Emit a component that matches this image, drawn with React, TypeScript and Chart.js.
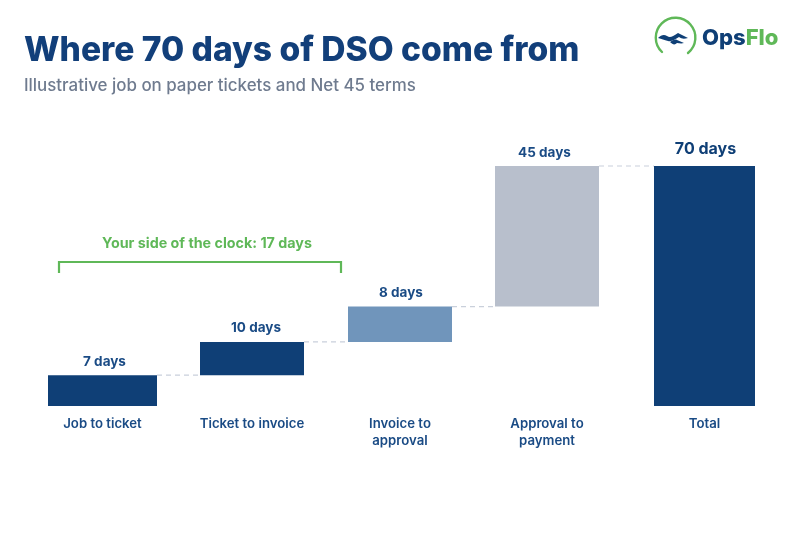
import { useEffect, useRef } from "react";
import Chart from "chart.js/auto";

const FONT = "Inter, 'Open Sans', sans-serif";
const NAVY = "#0f3f76";
const LABEL_BLUE = "#1a4b85";
const GREEN = "#5fb858";

const categories = [
	"Job to ticket",
	"Ticket to invoice",
	["Invoice to", "approval"],
	["Approval to", "payment"],
	"Total",
];
const dayCounts = [7, 10, 8, 45, 70];
// bar extents as drawn in the picture, the steps are not quite to scale
const barStarts = [0, 9, 18.7, 29, 0];
const barEnds = [9, 18.7, 29, 70, 70];
const barColors = [NAVY, NAVY, "#7095bb", "#b8bfcc", NAVY];
const bracketLabel = "Your side of the clock: 17 days";

// the picture's columns are hand placed, so nudge them off the even grid (px)
const columnNudge = [1.5, 1, -1, -4, 3.5];
const widthNudge = [4, -1, -1, -1, -4];
const labelNudge = [2, 4, 1, -2.5, 1];

const annotations = {
	id: "annotations",
	afterDatasetsUpdate(chart: any) {
		chart.getDatasetMeta(0).data.forEach((bar: any, i: number) => {
			bar.width = 105 + widthNudge[i];
		});
	},
	afterDatasetsDraw(chart: any) {
		const { ctx, scales } = chart;
		const bars = chart.getDatasetMeta(0).data;
		ctx.save();

		// dashed connectors between the steps
		ctx.strokeStyle = "#c9d0db";
		ctx.lineWidth = 1.2;
		ctx.setLineDash([5, 4]);
		for (let i = 0; i < bars.length - 1; i++) {
			const y = scales.y.getPixelForValue(barEnds[i]);
			ctx.beginPath();
			ctx.moveTo(bars[i].x + bars[i].width / 2, y);
			ctx.lineTo(bars[i + 1].x - bars[i + 1].width / 2, y);
			ctx.stroke();
		}
		ctx.setLineDash([]);

		// value labels
		ctx.textAlign = "center";
		ctx.textBaseline = "middle";
		dayCounts.forEach((days, i) => {
			const last = i === dayCounts.length - 1;
			ctx.font = `700 ${last ? 16 : 13.5}px ${FONT}`;
			ctx.fillStyle = last ? NAVY : LABEL_BLUE;
			ctx.fillText(`${days} days`, bars[i].x + labelNudge[i], bars[i].y - (last ? 16.5 : 13.5));
		});

		// bracket over the first two steps
		const left = bars[0].x - 43.5;
		const right = bars[1].x + 89;
		const top = scales.y.getPixelForValue(42);
		ctx.strokeStyle = GREEN;
		ctx.lineWidth = 2.2;
		ctx.beginPath();
		ctx.moveTo(left, top + 11);
		ctx.lineTo(left, top);
		ctx.lineTo(right, top);
		ctx.lineTo(right, top + 11);
		ctx.stroke();
		ctx.font = `700 14.3px ${FONT}`;
		ctx.fillStyle = GREEN;
		ctx.fillText(bracketLabel, 207, top - 18);

		ctx.restore();
	},
};

export default function App() {
	const chartRef = useRef<HTMLCanvasElement>(null);

	useEffect(() => {
		if (!chartRef.current) return;
		const chart = new Chart(chartRef.current, {
			type: "bar",
			data: {
				labels: categories,
				datasets: [
					{
						data: barStarts.map((start, i) => [start, barEnds[i]]),
						backgroundColor: barColors,
						barPercentage: 0.7,
						categoryPercentage: 1,
					},
				],
			},
			options: {
				animation: false,
				responsive: false,
				layout: { padding: { left: 26, right: 24, top: 166, bottom: 0 } },
				plugins: {
					legend: { display: false },
					tooltip: { enabled: false },
				},
				scales: {
					x: {
						grid: { display: false },
						border: { display: false },
						afterFit: (axis: any) => {
							axis.height = 127;
						},
						afterBuildTicks: (axis: any) => {
							if (axis.$nudged) return;
							axis.$nudged = true;
							const base = axis.getPixelForValue;
							axis.getPixelForValue = function (value: number, index?: number) {
								return base.call(axis, value, index) + columnNudge[value];
							};
						},
						ticks: {
							color: LABEL_BLUE,
							padding: 2,
							maxRotation: 0,
							autoSkip: false,
							font: { family: FONT, size: 13.2, weight: 600, lineHeight: 1.25 },
						},
					},
					y: { display: false, min: 0, max: 70 },
				},
			},
			plugins: [annotations],
		});

		return () => chart.destroy();
	}, []);

	return (
		<div style={{ position: "fixed", left: 0, top: 0, width: 800, height: 533, background: "#fff", fontFamily: FONT, overflow: "hidden" }}>
			<canvas ref={chartRef} width={800} height={533} style={{ position: "absolute", left: 0, top: 0 }} />
			<div style={{ position: "absolute", left: 24, top: 27, fontSize: 33.6, lineHeight: "44px", fontWeight: 800, color: "#123f7a", whiteSpace: "nowrap" }}>
				Where 70 days of DSO come from
			</div>
			<div style={{ position: "absolute", left: 24, top: 74, fontSize: 16.9, lineHeight: "22px", fontWeight: 500, color: "#6f7b8f", whiteSpace: "nowrap" }}>
				Illustrative job on paper tickets and Net 45 terms
			</div>
			<svg width={44} height={44} viewBox="0 0 44 44" overflow="visible" style={{ position: "absolute", left: 651, top: 15 }}>
				<path d="M11 37 A19.8 19.8 0 1 1 37 38" fill="none" stroke={GREEN} strokeWidth={2.4} strokeLinecap="round" />
				<path d="M7 23 C10 20 13 19 16 21 C19 23 21 22 27 18 L37 23 C33 24 31 24 28 22 C24 24 21 27 17 26 C13 25 11 24 7 23 Z" fill={NAVY} />
				<path d="M19 27 C22 25 24 24 26 25 L33 28 C30 29 28 28 26 28 C24 30 22 30 19 27 Z" fill={NAVY} />
			</svg>
			<div style={{ position: "absolute", left: 702, top: 22, fontSize: 22, lineHeight: "30px", fontWeight: 800, whiteSpace: "nowrap" }}>
				<span style={{ color: NAVY }}>Ops</span>
				<span style={{ color: GREEN }}>Flo</span>
			</div>
		</div>
	);
}
